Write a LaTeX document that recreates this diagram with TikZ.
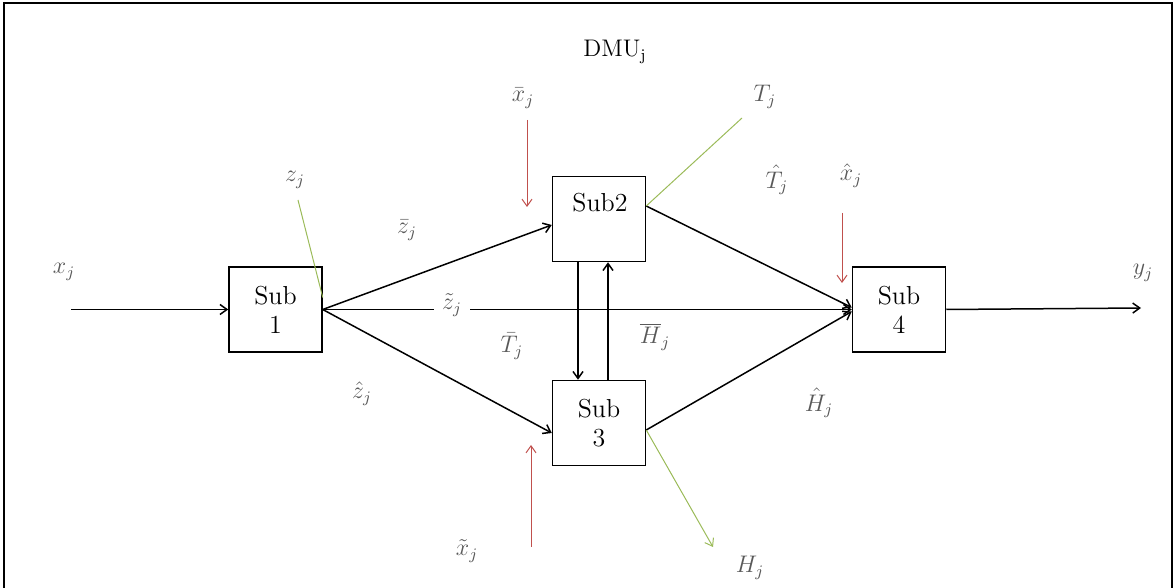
\documentclass[tikz,border=0pt]{standalone}
\usetikzlibrary{arrows.meta}
\definecolor{inred}{HTML}{C0504D}
\definecolor{outgreen}{HTML}{9BBB59}
\definecolor{lblgray}{HTML}{595959}
\begin{document}
\begin{tikzpicture}[x=0.5pt,y=-0.5pt,
  subbox/.style={draw,line width=0.75pt,minimum width=46.5pt,minimum height=42.5pt,inner sep=0pt,align=center,font=\fontsize{13}{15.5}\selectfont},
  subtxt/.style={inner sep=0pt,font=\fontsize{13}{15.5}\selectfont},
  lbl/.style={inner sep=1pt,text=lblgray,font=\fontsize{12}{14}\selectfont},
  conn/.style={line width=0.75pt},
  arr/.style={conn,-{Straight Barb[length=3.5pt,width=5pt]}},
  redarr/.style={draw=inred,line width=0.5pt,-{Straight Barb[length=3.5pt,width=5pt]}},
  greenln/.style={draw=outgreen,line width=0.5pt},
  greenarr/.style={greenln,-{Straight Barb[length=3.5pt,width=5pt]}}]
\useasboundingbox (0,0) rectangle (1175,588);
\draw[line width=0.75pt] (4,588) -- (4,3) -- (1172,3) -- (1172,588);

% boxes
\node[subbox] (s1) at (275.5,309.5) {Sub\\[-1pt]1};
\node[subbox] (s2) at (599,219) {};
\node[subtxt] (s2t) at (600,203) {Sub2};
\node[subbox] (s3) at (599,423) {Sub\\[-1pt]3};
\node[subbox] (s4) at (899,309.5) {Sub\\[-1pt]4};

% free ends
\coordinate (xin) at (71,309.5);
\coordinate (yout) at (1141,308);
\coordinate (xbar0) at (527,120);
\coordinate (xbar1) at (527,207);
\coordinate (xhat0) at (842,213);
\coordinate (xhat1) at (842,283);
\coordinate (xtil0) at (531,547);
\coordinate (xtil1) at (531,445);
\coordinate (zend) at (298,200);
\coordinate (tend) at (742,118);
\coordinate (hend) at (713,547);

% black connectors
\draw[arr] (xin) -- (s1.west);
\draw[arr] (s4.east) -- (yout);
\draw[arr] (s1.east) -- ([yshift=-3pt]s2.west);
\draw[arr] (s1.east) -- ([yshift=-5pt]s3.west);
\draw[arr] (s1.east) -- (s4.west);
\draw[arr] ([yshift=6.5pt]s2.east) -- ([yshift=1pt]s4.west);
\draw[arr] ([yshift=-3.5pt]s3.east) -- ([yshift=-1pt]s4.west);
\draw[arr] ([xshift=-10.5pt]s2.south) -- ([xshift=-10.5pt]s3.north);
\draw[arr] ([xshift=4.5pt]s3.north) -- ([xshift=4.5pt]s2.south);

% coloured connectors
\draw[redarr] (xbar0) -- (xbar1);
\draw[redarr] (xhat0) -- (xhat1);
\draw[redarr] (xtil0) -- (xtil1);
\draw[greenln] (zend) -- ([yshift=6pt]s1.east);
\draw[greenln] ([yshift=6.5pt]s2.east) -- (tend);
\draw[greenarr] ([yshift=-3.5pt]s3.east) -- (hend);

% labels
\node[font=\fontsize{12}{14}\selectfont] (dmu) at (615,52) {DMU$_{\mathrm{j}}$};
\node[lbl] (lx) at (64,272) {$x_j$};
\node[lbl] (ly) at (1143,273) {$y_j$};
\node[lbl] (lz) at (295,180) {$z_j$};
\node[lbl] (lzbar) at (407,230) {$\bar{z}_j$};
\node[lbl] (lzhat) at (362,394) {$\hat{z}_j$};
\node[lbl,fill=white,inner xsep=4pt] (lztil) at (452,305) {$\tilde{z}_j$};
\node[lbl] (lxbar) at (523,98) {$\bar{x}_j$};
\node[lbl] (lxhat) at (851,176) {$\hat{x}_j$};
\node[lbl] (lxtil) at (467,551) {$\tilde{x}_j$};
\node[lbl] (lT) at (765,97) {$T_j$};
\node[lbl] (lThat) at (777,180) {$\hat{T}_j$};
\node[lbl] (lTbar) at (512,346) {$\bar{T}_j$};
\node[lbl] (lHbar) at (655,337) {$\overline{H}_j$};
\node[lbl] (lHhat) at (819,403) {$\hat{H}_j$};
\node[lbl] (lH) at (750,568) {$H_j$};
\end{tikzpicture}
\end{document}
